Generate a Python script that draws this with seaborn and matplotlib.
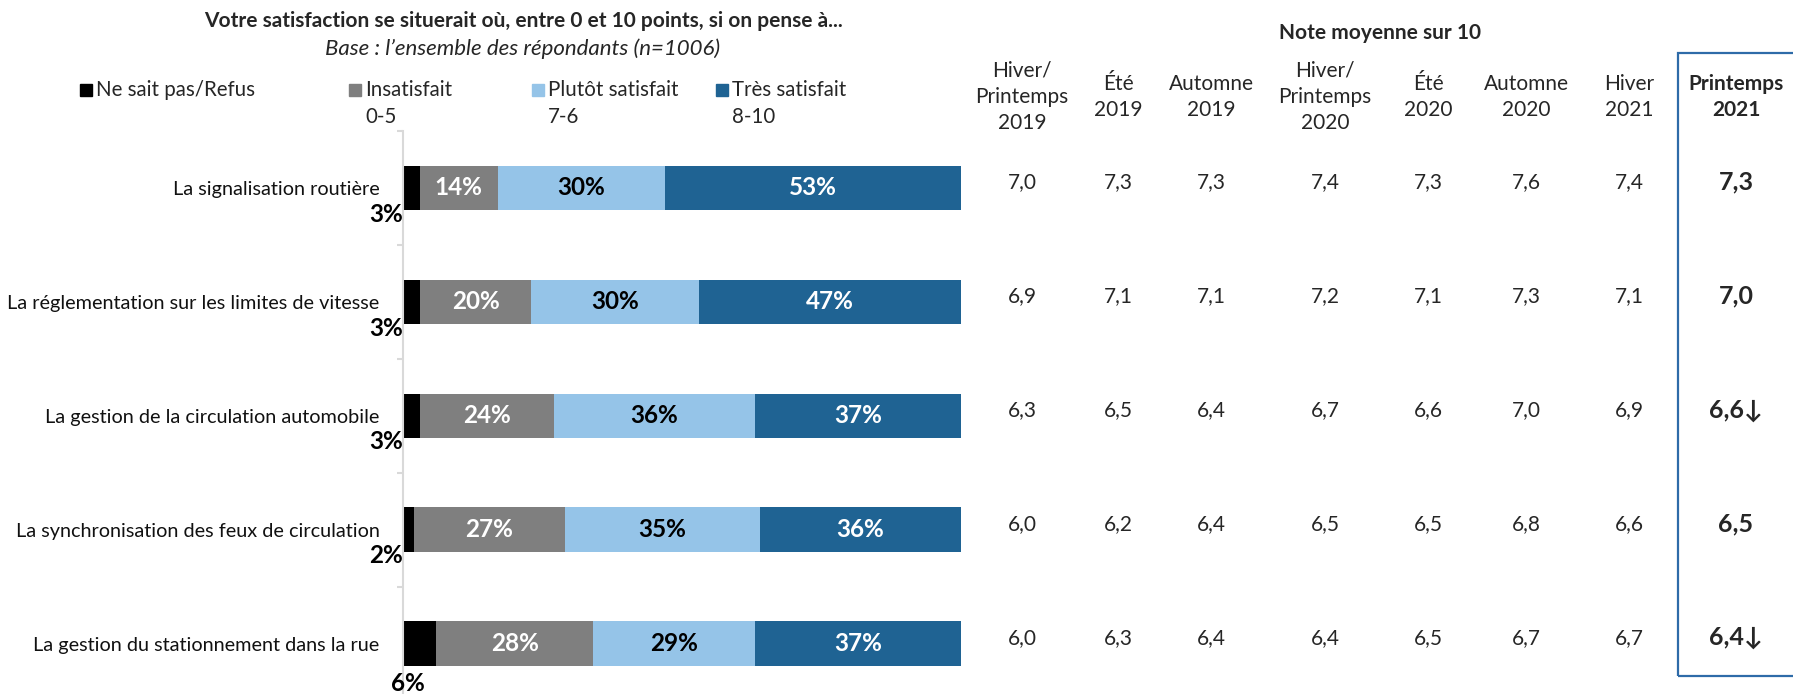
import matplotlib
matplotlib.use("Agg")
import matplotlib.pyplot as plt
import matplotlib.transforms as mtransforms
from matplotlib.patches import Rectangle
import pandas as pd
import seaborn as sns

# values
items = [
    "La signalisation routière",
    "La réglementation sur les limites de vitesse",
    "La gestion de la circulation automobile",
    "La synchronisation des feux de circulation",
    "La gestion du stationnement dans la rue",
]
ne_sait_pas = [3, 3, 3, 2, 6]
insatisfait = [14, 20, 24, 27, 28]
plutot_satisfait = [30, 30, 36, 35, 29]
tres_satisfait = [53, 47, 37, 36, 37]

periods = [
    "Hiver/\nPrintemps\n2019", "Été\n2019", "Automne\n2019", "Hiver/\nPrintemps\n2020",
    "Été\n2020", "Automne\n2020", "Hiver\n2021", "Printemps\n2021",
]
hiver_printemps_2019 = [7.0, 6.9, 6.3, 6.0, 6.0]
ete_2019 = [7.3, 7.1, 6.5, 6.2, 6.3]
automne_2019 = [7.3, 7.1, 6.4, 6.4, 6.4]
hiver_printemps_2020 = [7.4, 7.2, 6.7, 6.5, 6.4]
ete_2020 = [7.3, 7.1, 6.6, 6.5, 6.5]
automne_2020 = [7.6, 7.3, 7.0, 6.8, 6.7]
hiver_2021 = [7.4, 7.1, 6.9, 6.6, 6.7]
printemps_2021 = [7.3, 7.0, 6.6, 6.5, 6.4]
baisse_2021 = [False, False, True, False, True]

legend_labels = ["Ne sait pas/Refus", "Insatisfait\n0-5", "Plutôt satisfait\n7-6", "Très satisfait\n8-10"]

segments = ["nsp", "insat", "plutot", "tres"]
colors = ["#000000", "#7F7F7F", "#95C4E8", "#1F6393"]
label_colors = [None, "white", "black", "white"]

W, H = 1793, 694
sns.set_theme(style="white")
plt.rcParams["font.family"] = ["Lato", "DejaVu Sans"]

df = pd.DataFrame({"item": items, "nsp": ne_sait_pas, "insat": insatisfait,
                   "plutot": plutot_satisfait, "tres": tres_satisfait})
cum = df[segments].cumsum(axis=1)
cum["item"] = df["item"]

fig = plt.figure(figsize=(W / 100, H / 100), dpi=100)
ax = fig.add_axes([403 / W, 1 - 700.5 / H, 558 / W, 569.5 / H])

# stacked bars: draw the cumulative totals from the widest down
for seg, color in reversed(list(zip(segments, colors))):
    sns.barplot(data=cum, x=seg, y="item", color=color, saturation=1,
                width=0.39, linewidth=0, ax=ax, orient="h")

for i in range(len(items)):
    start = 0
    for j, seg in enumerate(segments):
        v = df.loc[i, seg]
        if j == 0:
            if v < 5:
                ax.text(0, i + 0.23, f"{v}%", ha="right", va="center",
                        fontsize=17.5, fontweight="bold", color="black")
            else:
                ax.text(0.8, i + 0.35, f"{v}%", ha="center", va="center",
                        fontsize=17.5, fontweight="bold", color="black")
        else:
            ax.text(start + v / 2, i, f"{v}%", ha="center", va="center",
                    fontsize=17.5, fontweight="bold", color=label_colors[j])
        start += v

ax.set_xlim(0, 100)
ax.set_ylim(len(items) - 0.5, -0.5)
ax.set_xlabel("")
ax.set_ylabel("")
ax.xaxis.set_visible(False)
for s in ["top", "right", "bottom"]:
    ax.spines[s].set_visible(False)
ax.spines["left"].set_color("#D9D9D9")
ax.spines["left"].set_linewidth(1.5)
ax.set_yticks([i - 0.5 for i in range(len(items) + 1)], minor=True)
ax.tick_params(axis="y", which="major", left=False, pad=11, labelsize=14.3, labelcolor="#111111")
ax.tick_params(axis="y", which="minor", left=True, length=4, width=1.5, color="#D9D9D9")

# titles
fig.text(523 / W, 1 - 21 / H, "Votre satisfaction se situerait où, entre 0 et 10 points, si on pense à...",
         ha="center", va="center", fontsize=15, fontweight="bold")
fig.text(523 / W, 1 - 49 / H, "Base : l’ensemble des répondants (n=1006)",
         ha="center", va="center", fontsize=16, style="italic")
fig.text(1380 / W, 1 - 33 / H, "Note moyenne sur 10", ha="center", va="center",
         fontsize=15, fontweight="bold")

# legend
leg_x = [80, 349, 532, 716]
for x, lab, c in zip(leg_x, legend_labels, colors):
    fig.patches.append(Rectangle((x / W, 1 - 96 / H), 12 / W, 12 / H, color=c,
                                 transform=fig.transFigure, figure=fig))
    fig.text((x + 16) / W, 1 - 80 / H, lab, ha="left", va="top",
             fontsize=14.8, linespacing=1.45)

# mean-score table, rows follow the bar axis
col_x = [1022, 1118, 1211, 1325, 1428, 1526, 1629, 1736]
columns = [hiver_printemps_2019, ete_2019, automne_2019, hiver_printemps_2020,
           ete_2020, automne_2020, hiver_2021, printemps_2021]
trans = mtransforms.blended_transform_factory(fig.transFigure, ax.transData)
for k, (x, head, vals) in enumerate(zip(col_x, periods, columns)):
    last = k == len(columns) - 1
    fig.text(x / W, 1 - 97 / H, head, ha="center", va="center", multialignment="center",
             fontsize=15, linespacing=1.4, fontweight="bold" if last else "normal")
    for i, v in enumerate(vals):
        txt = f"{v:.1f}".replace(".", ",")
        if last:
            if baisse_2021[i]:
                txt += "↓"
            ax.text(x / W, i - 0.05, txt, transform=trans, ha="center", va="center",
                    fontsize=18, fontweight="bold")
        else:
            ax.text(x / W, i - 0.05, txt, transform=trans, ha="center", va="center",
                    fontsize=15)

fig.patches.append(Rectangle((1678 / W, 1 - 676 / H), 130 / W, 623 / H, fill=False,
                             edgecolor="#2E6BA8", linewidth=1.6,
                             transform=fig.transFigure, figure=fig))

fig.savefig("out.png", dpi=100)
